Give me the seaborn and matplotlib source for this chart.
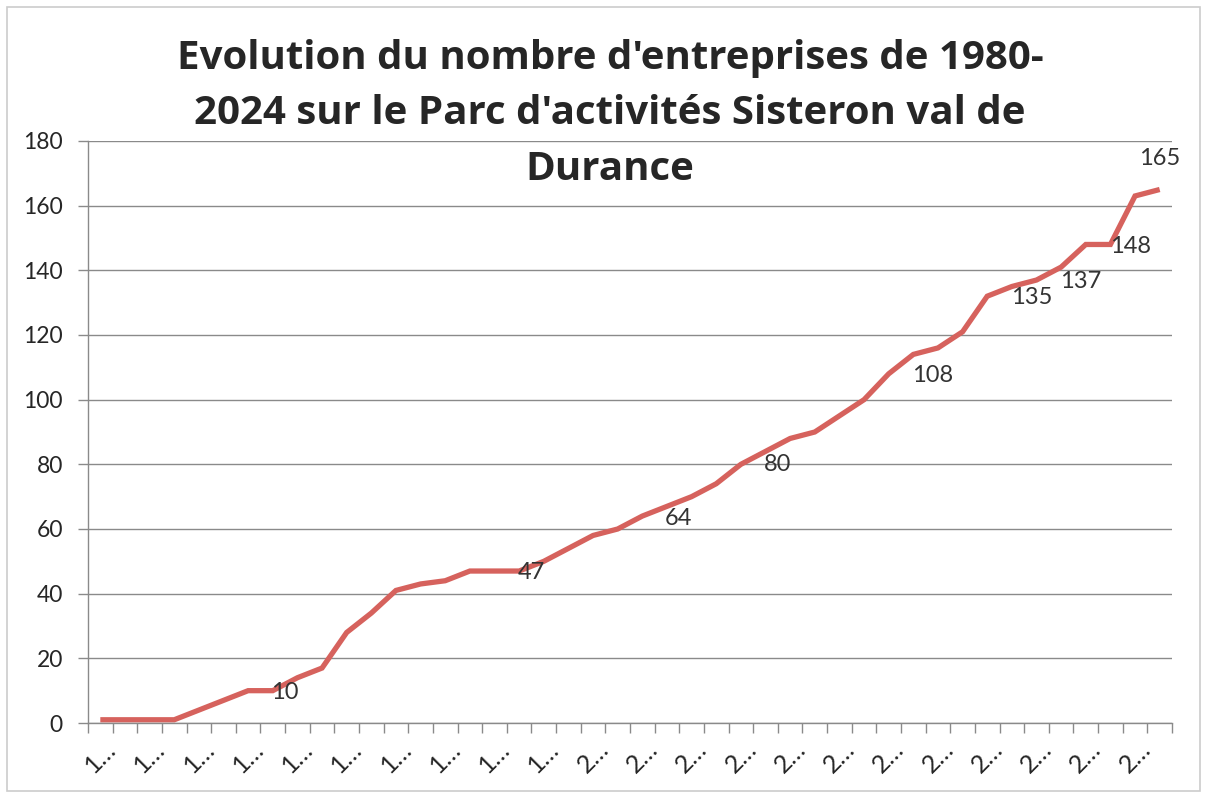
import numpy as np
import pandas as pd
import matplotlib
matplotlib.use("Agg")
import matplotlib.pyplot as plt
import seaborn as sns
from matplotlib.patches import Rectangle

# ---- data ----
years = list(range(1980, 2024))
values = [1, 1, 1, 1, 4, 7, 10, 10, 14, 17,
          28, 34, 41, 43, 44, 47, 47, 47, 50, 54,
          58, 60, 64, 67, 70, 74, 80, 84, 88, 90,
          95, 100, 108, 114, 116, 121, 132, 135, 137, 141,
          148, 148, 163, 165]
tick_labels = [str(y)[0] + "\u2026" for y in years]
label_idx = [7, 17, 22, 26, 32, 37, 38, 41, 43]
title = ("Evolution du nombre d'entreprises de 1980-\n"
         "2024 sur le Parc d'activités Sisteron val de\n"
         "Durance")

# label placement offsets (category units, value units)
label_dx = [0.48, 0.48, 1.45, 1.48, 1.8, 0.82, 1.8, 0.8, 0.0]
label_dy = [-0.6, -0.5, -0.6, -0.2, -0.5, -3.4, -0.6, -0.5, 9.7]

df = pd.DataFrame({"idx": np.arange(len(years)), "year": years, "value": values})

sns.set_theme(style="white")
plt.rcParams["font.family"] = ["Lato", "DejaVu Sans"]

W, H = 1205, 793
fig = plt.figure(figsize=(W / 100, H / 100), dpi=100)
fig.patch.set_facecolor("white")
ax = fig.add_axes([88 / W, 1 - 723 / H, (1172 - 88) / W, (723 - 141) / H])

sns.lineplot(data=df, x="idx", y="value", ax=ax, color="#D6625D",
             linewidth=3.8, solid_joinstyle="miter", solid_capstyle="butt")

ax.set_xlim(-0.5, len(years) - 0.5)
ax.set_ylim(0, 180)
ax.set_xlabel("")
ax.set_ylabel("")

grid_c = "#8a8a8a"
ax.set_yticks(np.arange(0, 181, 20))
ax.yaxis.grid(True, color=grid_c, linewidth=1.0)
ax.set_axisbelow(True)
ax.tick_params(axis="y", which="major", length=7, width=1, color=grid_c,
               labelsize=16.5, labelcolor="#262626", pad=11, left=True)

# boundaries ticks (major), labels on minor ticks at every other category
ax.set_xticks(np.arange(-0.5, len(years), 1.0))
ax.set_xticklabels([])
ax.set_xticks(np.arange(0, len(years), 2), minor=True)
ax.set_xticklabels(tick_labels[::2], minor=True, rotation=45,
                   ha="center", va="top")
ax.tick_params(axis="x", which="major", length=7, width=1, color=grid_c,
               bottom=True)
ax.tick_params(axis="x", which="minor", length=0, labelsize=18,
               labelcolor="#262626", pad=10)

for side in ["top", "right"]:
    ax.spines[side].set_visible(False)
for side in ["left", "bottom"]:
    ax.spines[side].set_color(grid_c)
    ax.spines[side].set_linewidth(1.0)

for i, dx, dy in zip(label_idx, label_dx, label_dy):
    ax.text(i + dx, values[i] + dy, str(values[i]), ha="center", va="center",
            fontsize=17, color="#333333", zorder=5)

fig.text(610 / W, 1 - 39 / H, title, ha="center", va="top", fontsize=29,
         fontweight="bold", color="#262626", linespacing=1.55,
         family=["Open Sans", "DejaVu Sans"])

fig.add_artist(Rectangle((7 / W, 2 / H), 1193 / W, 784 / H,
                         transform=fig.transFigure, fill=False,
                         edgecolor="#cccccc", linewidth=1.2))

fig.savefig("out.png", dpi=100, facecolor="white")
